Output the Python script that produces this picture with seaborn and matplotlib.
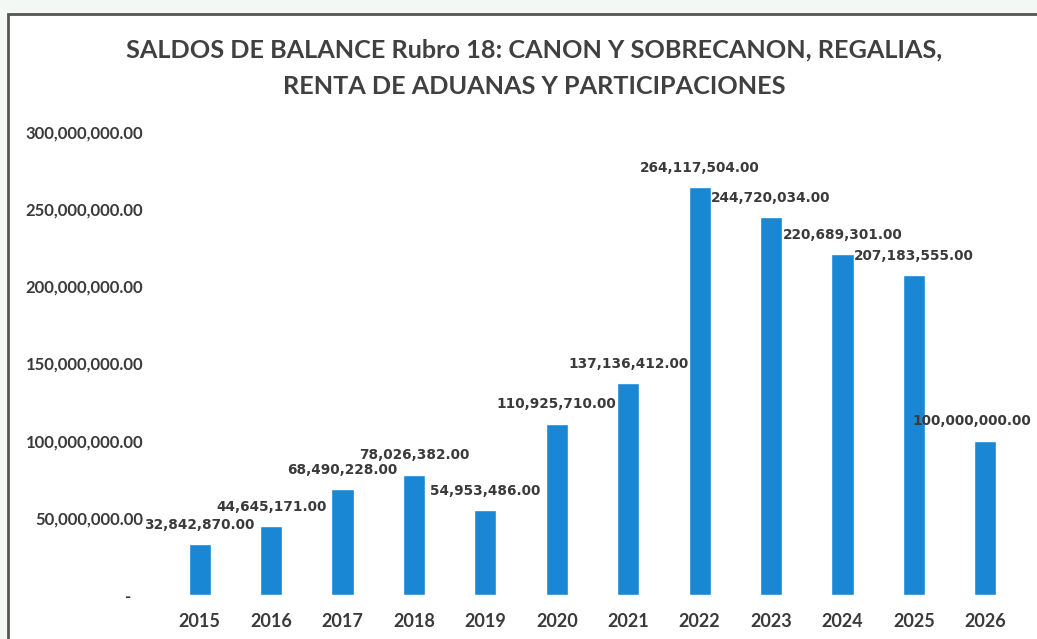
import matplotlib
matplotlib.use("Agg")
import matplotlib.pyplot as plt
import matplotlib.patches as mpatches
import seaborn as sns
import pandas as pd

years = ["2015", "2016", "2017", "2018", "2019", "2020",
         "2021", "2022", "2023", "2024", "2025", "2026"]
saldos = [32842870.00, 44645171.00, 68490228.00, 78026382.00, 54953486.00, 110925710.00,
          137136412.00, 264117504.00, 244720034.00, 220689301.00, 207183555.00, 100000000.00]
y_ticks = [0, 50000000, 100000000, 150000000, 200000000, 250000000, 300000000]

df = pd.DataFrame({"anio": years, "saldo": saldos})

sns.set_theme(style="white")
plt.rcParams["font.family"] = ["Lato", "DejaVu Sans"]

fig = plt.figure(figsize=(10.37, 6.39), dpi=100, facecolor="#f3f8f4")

# chart frame (white chart area with grey border), drawn below the axes
fig.patches.append(mpatches.Rectangle((8 / 1037, -0.05), 1.1, 1 - 14 / 639 + 0.05,
                                      transform=fig.transFigure, facecolor="white",
                                      edgecolor="#555555", linewidth=2, zorder=-5))

ax = fig.add_axes([164 / 1037, 1 - 595 / 639, (1021 - 164) / 1037, (595 - 132) / 639])
ax.patch.set_alpha(0)

sns.barplot(data=df, x="anio", y="saldo", color="#1a87d4", saturation=1,
            width=0.31, ax=ax)

ax.set_ylim(0, 300000000)
ax.set_xlim(-0.5, len(years) - 0.5)
ax.set_yticks(y_ticks)
ax.set_yticklabels(["-   "] + [f"{v:,.2f}" for v in y_ticks[1:]],
                   fontsize=12, fontweight="bold", color="#3a3a3a")
ax.tick_params(axis="y", length=0, pad=15)
ax.tick_params(axis="x", length=0, pad=13)
for lbl in ax.get_xticklabels():
    lbl.set_fontsize(13)
    lbl.set_fontweight("bold")
    lbl.set_color("#3a3a3a")
ax.set_xlabel("")
ax.set_ylabel("")
sns.despine(ax=ax, left=True, bottom=True)

# data labels, centred above each bar (last one nudged so it stays in the picture)
for i, v in enumerate(saldos):
    dx = -10 if i == len(saldos) - 1 else 0
    ax.annotate(f"{v:,.2f}", (i, v), xytext=(dx, 9), textcoords="offset points",
                ha="center", va="bottom", fontsize=9.8, fontweight="bold",
                color="#3a3a3a", family="DejaVu Sans")

fig.text(0.515, 1 - 50 / 639, "SALDOS DE BALANCE Rubro 18: CANON Y SOBRECANON, REGALIAS,",
         ha="center", va="center", fontsize=18.2, fontweight="bold", color="#404040")
fig.text(0.515, 1 - 87 / 639, "RENTA DE ADUANAS Y PARTICIPACIONES",
         ha="center", va="center", fontsize=18.2, fontweight="bold", color="#404040")

fig.savefig("out.png", dpi=100, facecolor=fig.get_facecolor())
